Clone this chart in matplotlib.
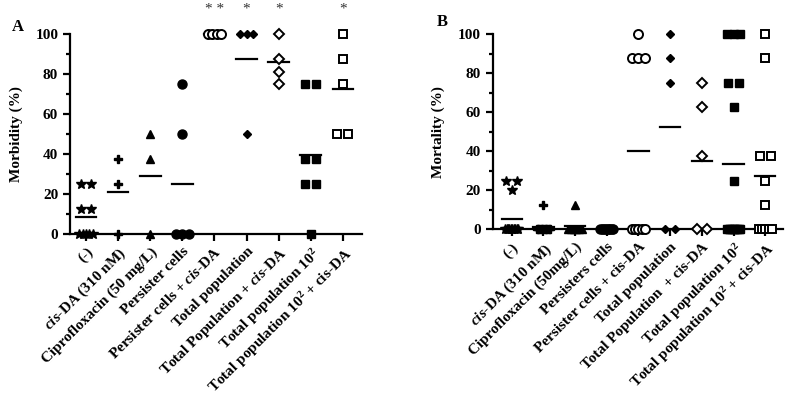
import matplotlib
matplotlib.use('Agg')

import matplotlib.pyplot as plt
import numpy as np

plt.rcParams['font.family'] = 'Liberation Serif'
plt.rcParams['font.weight'] = 'bold'
plt.rcParams['mathtext.fontset'] = 'custom'
plt.rcParams['mathtext.rm'] = 'Liberation Serif:bold'
plt.rcParams['mathtext.it'] = 'Liberation Serif:bold:italic'
plt.rcParams['mathtext.bf'] = 'Liberation Serif:bold'

# ---- panel A: morbidity (%) ----
labels_a = ['(-)', r'$\mathit{cis}$-DA (310 nM)', 'Ciprofloxacin (50 mg/L)', 'Persister cells',
            r'Persister cells + $\mathit{cis}$-DA', 'Total population',
            r'Total Population + $\mathit{cis}$-DA', r'Total population 10$^{2}$',
            r'Total population 10$^{2}$ + cis-DA']
a_neg = [25, 25, 12.5, 12.5, 0, 0, 0, 0, 0]
a_cisda = [37.5, 25, 0]
a_cipro = [50, 37.5, 0]
a_pers = [75, 50, 0, 0, 0]
a_pers_cis = [100, 100, 100, 100]
a_total = [100, 100, 100, 50]
a_total_cis = [100, 87.5, 81.25, 75]
a_total102 = [75, 75, 37.5, 37.5, 25, 25, 0]
a_total102_cis = [100, 87.5, 75, 50, 50]
signif_a = ['', '', '', '', '* *', '*', '*', '', '*']

# ---- panel B: mortality (%) ----
labels_b = ['(-)', r'$\mathit{cis}$-DA (310 nM)', 'Ciprofloxacin (50mg/L)', 'Persisters cells',
            'Persister cells + cis-DA', 'Total population',
            'Total Population  + cis-DA', r'Total population 10$^{2}$',
            r'Total population 10$^{2}$ + cis-DA']
b_neg = [25, 25, 20] + [0] * 10
b_cisda = [12.5] + [0] * 11
b_cipro = [12.5] + [0] * 6
b_pers = [0] * 10
b_pers_cis = [100, 87.5, 87.5, 87.5, 0, 0, 0, 0, 0]
b_total = [100, 87.5, 75, 0, 0]
b_total_cis = [75, 62.5, 37.5, 0, 0]
b_total102 = [100, 100, 100, 75, 75, 62.5, 25] + [0] * 9
b_total102_cis = [100, 87.5, 37.5, 37.5, 25, 12.5, 0, 0, 0, 0, 0]

groups_a = [a_neg, a_cisda, a_cipro, a_pers, a_pers_cis, a_total, a_total_cis, a_total102, a_total102_cis]
groups_b = [b_neg, b_cisda, b_cipro, b_pers, b_pers_cis, b_total, b_total_cis, b_total102, b_total102_cis]

# marker, size, filled
styles = [('*', 7, True), ('P', 6, True), ('^', 6, True), ('o', 6.5, True), ('o', 6.5, False),
          ('D', 4.5, True), ('D', 5, False), ('s', 6, True), ('s', 6, False)]


def spread(values, step=0.33, maxwidth=0.42):
    # horizontal offsets for identical values, like a column scatter
    values = np.asarray(values, dtype=float)
    offs = np.zeros(len(values))
    for v in np.unique(values):
        idx = np.where(values == v)[0]
        n = len(idx)
        if n > 1:
            s = min(step, maxwidth / (n - 1))
            offs[idx] = (np.arange(n) - (n - 1) / 2.0) * s
    return offs


def draw_panel(ax, groups, labels, ylabel, xlim):
    for i, vals in enumerate(groups):
        m, ms, filled = styles[i]
        x = i + spread(vals)
        fc = 'black' if filled else 'white'
        ax.plot(x, vals, linestyle='none', marker=m, ms=ms, mfc=fc, mec='black',
                mew=1.0 if filled else 1.4, clip_on=False, zorder=3)
        mean = np.mean(vals)
        ax.plot([i - 0.32, i + 0.32], [mean, mean], color='black', lw=1.6, zorder=2, clip_on=False)

    ax.set_xlim(*xlim)
    ax.set_ylim(0, 100)
    ax.set_yticks(range(0, 101, 20))
    ax.set_yticks(range(10, 100, 20), minor=True)
    ax.set_xticks(range(len(groups)))
    ax.set_xticklabels(labels, rotation=45, ha='right', rotation_mode='anchor', fontsize=10.5)
    for s in ['top', 'right']:
        ax.spines[s].set_visible(False)
    for s in ['left', 'bottom']:
        ax.spines[s].set_linewidth(1.6)
    ax.tick_params(axis='both', which='major', width=1.6, length=5, labelsize=11)
    ax.tick_params(axis='y', which='minor', width=1.6, length=3)
    ax.tick_params(axis='x', pad=3)
    ax.set_ylabel(ylabel, fontsize=11, fontweight='bold', labelpad=9)


fig = plt.figure(figsize=(7.87, 4.01), dpi=100)
ax1 = fig.add_axes([0.089, 0.4165, 0.371, 0.4985])
ax2 = fig.add_axes([0.626, 0.428, 0.369, 0.487])

draw_panel(ax1, groups_a, labels_a, 'Morbidity (%)', (-0.5, 8.6))
draw_panel(ax2, groups_b, labels_b, 'Mortality (%)', (-0.6, 8.56))

for i, s in enumerate(signif_a):
    if s:
        ax1.text(i, 112.5, s, ha='center', va='center', fontsize=11, fontweight='normal',
                 color='#333333', clip_on=False)

fig.text(12 / 787, 1 - 27 / 401, 'A', fontsize=12, fontweight='bold', va='center')
fig.text(437 / 787, 1 - 22 / 401, 'B', fontsize=12, fontweight='bold', va='center')

plt.savefig('out.png', dpi=100)
plt.close()
